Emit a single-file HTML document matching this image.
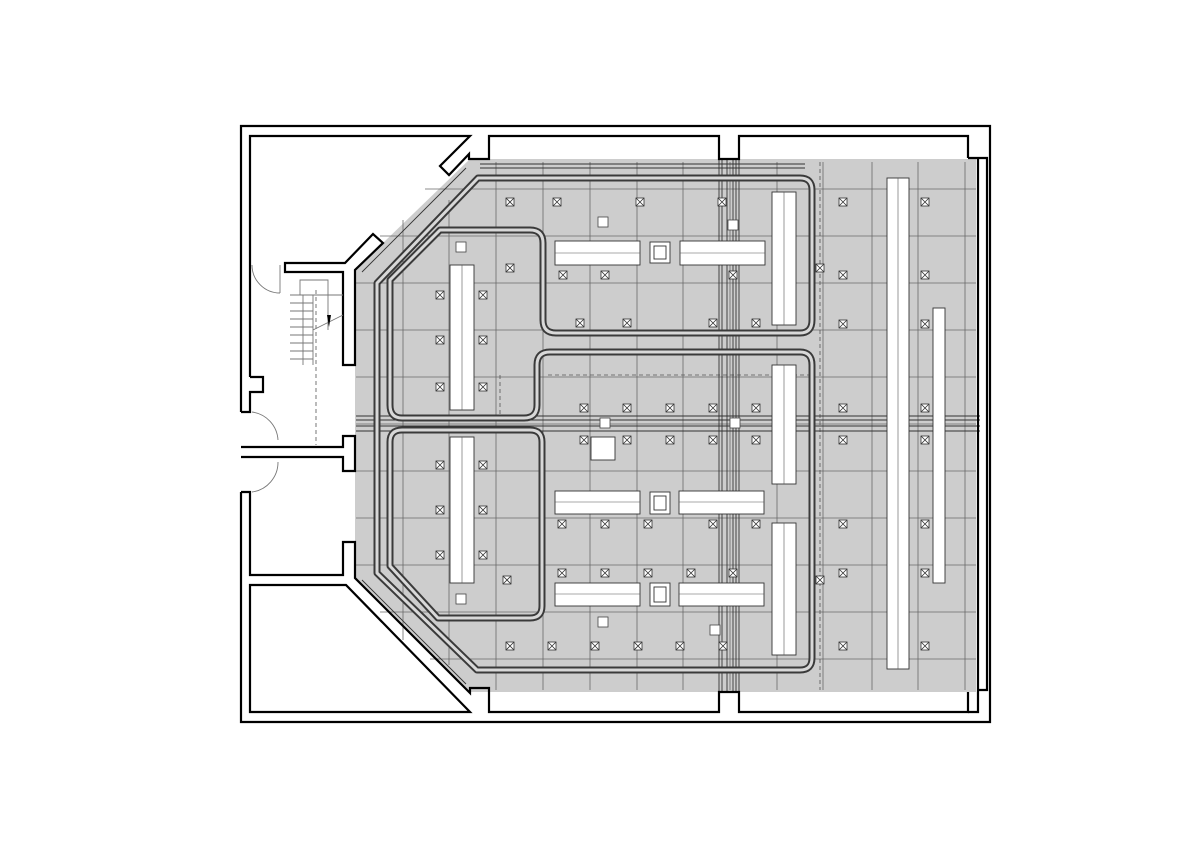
<!DOCTYPE html>
<html><head><meta charset="utf-8"><style>html,body{margin:0;padding:0;background:#fff;overflow:hidden}svg{display:block}</style></head>
<body>
<svg width="1200" height="848" viewBox="0 0 1200 848" xmlns="http://www.w3.org/2000/svg">
<defs>
<g id="x">
<rect x="-4" y="-4" width="8" height="8" fill="#fff" stroke="#333" stroke-width="0.8"/>
<path d="M-4 -4L4 4M4 -4L-4 4" stroke="#333" stroke-width="0.8"/>
</g>
<g id="s"><rect x="-5" y="-5" width="10" height="10" fill="#fff" stroke="#444" stroke-width="0.8"/></g>
</defs>
<rect width="1200" height="848" fill="#fff"/>
<polygon points="470,159 976,159 976,692 470,692 355,578 355,270" fill="#cdcdcd"/>
<g stroke="#6a6a6a" stroke-width="0.8" fill="none">
<path d="M403 220V640M449 200V665M496 162V690M543 162V690M590 162V690M637 162V690M683 162V690M730 162V690M777 162V690M823 162V690M872 162V690M918 162V690M965 162V690"/>
<path d="M425 189H976M380 236H976M356 283H976M356 330H976M356 377H976M356 424H976M356 471H976M356 518H976M356 565H976M380 612H976M430 659H976"/>
</g>
<g stroke="#555" stroke-width="0.8" fill="none" stroke-dasharray="4,3">
<path d="M820 162V690M548 375H810M500 375V420M316 290V445"/>
</g>
<g stroke="#333" stroke-width="0.9" fill="none">
<path d="M719 159V692M722 159V692M727 159V692M733 159V692M736 159V692M739 159V692"/>
<path d="M356 416H980M356 420H980M356 426H980M356 431H980"/>
<path d="M480 164H805M480 168H805M466 168L362 272M466 684L362 580"/>
</g>
<g fill="none" stroke-linejoin="round">
<g stroke="#3a3a3a" stroke-width="7">
<path d="M800 333Q812 333 812 320V190Q812 178 800 178H478L377 283V573L477 670H800Q812 670 812 658V365Q812 352 800 352H550Q537 352 537 365V405Q537 418 524 418H402Q390 418 390 405V280L440 230H530Q543 230 543 243V320Q543 333 556 333Z"/>
<path d="M402 430H530Q542 430 542 442V606Q542 618 530 618H438L390 566V442Q390 430 402 430Z"/>
</g>
<g stroke="#d8d8d8" stroke-width="3">
<path d="M800 333Q812 333 812 320V190Q812 178 800 178H478L377 283V573L477 670H800Q812 670 812 658V365Q812 352 800 352H550Q537 352 537 365V405Q537 418 524 418H402Q390 418 390 405V280L440 230H530Q543 230 543 243V320Q543 333 556 333Z"/>
<path d="M402 430H530Q542 430 542 442V606Q542 618 530 618H438L390 566V442Q390 430 402 430Z"/>
</g>
</g>
<g fill="#fff" stroke="#333" stroke-width="0.9">
<rect x="555" y="241" width="85" height="24"/><rect x="680" y="241" width="85" height="24"/>
<rect x="650" y="242" width="20" height="21"/><rect x="654" y="246" width="12" height="13"/>
<rect x="555" y="491" width="85" height="23"/><rect x="679" y="491" width="85" height="23"/>
<rect x="650" y="492" width="20" height="22"/><rect x="654" y="496" width="12" height="14"/>
<rect x="555" y="583" width="85" height="23"/><rect x="679" y="583" width="85" height="23"/>
<rect x="650" y="583" width="20" height="23"/><rect x="654" y="587" width="12" height="15"/>
<rect x="450" y="265" width="24" height="145"/><rect x="450" y="437" width="24" height="146"/>
<rect x="772" y="192" width="24" height="133"/><rect x="772" y="365" width="24" height="119"/><rect x="772" y="523" width="24" height="132"/>
<rect x="887" y="178" width="22" height="491"/><rect x="933" y="308" width="12" height="275"/>
<rect x="591" y="437" width="24" height="23"/>
</g>
<g stroke="#555" stroke-width="0.6">
<path d="M555 253H640M680 253H765M555 502H640M679 502H764M555 594H640M679 594H764M462 265V410M462 437V583M784 192V325M784 365V484M784 523V655M898 178V669"/>
</g>
<use href="#s" x="603" y="222"/><use href="#s" x="461" y="247"/><use href="#s" x="603" y="622"/><use href="#s" x="461" y="599"/><use href="#s" x="733" y="225"/><use href="#s" x="715" y="630"/><use href="#s" x="605" y="423"/><use href="#s" x="735" y="423"/>
<g>
<use href="#x" x="510" y="202"/><use href="#x" x="557" y="202"/><use href="#x" x="640" y="202"/><use href="#x" x="722" y="202"/><use href="#x" x="843" y="202"/><use href="#x" x="925" y="202"/>
<use href="#x" x="510" y="268"/><use href="#x" x="563" y="275"/><use href="#x" x="605" y="275"/><use href="#x" x="733" y="275"/><use href="#x" x="820" y="268"/><use href="#x" x="843" y="275"/><use href="#x" x="925" y="275"/>
<use href="#x" x="440" y="295"/><use href="#x" x="483" y="295"/><use href="#x" x="440" y="340"/><use href="#x" x="483" y="340"/><use href="#x" x="440" y="387"/><use href="#x" x="483" y="387"/>
<use href="#x" x="580" y="323"/><use href="#x" x="627" y="323"/><use href="#x" x="713" y="323"/><use href="#x" x="756" y="323"/><use href="#x" x="843" y="324"/><use href="#x" x="925" y="324"/>
<use href="#x" x="584" y="408"/><use href="#x" x="627" y="408"/><use href="#x" x="670" y="408"/><use href="#x" x="713" y="408"/><use href="#x" x="756" y="408"/><use href="#x" x="843" y="408"/><use href="#x" x="925" y="408"/>
<use href="#x" x="584" y="440"/><use href="#x" x="627" y="440"/><use href="#x" x="670" y="440"/><use href="#x" x="713" y="440"/><use href="#x" x="756" y="440"/><use href="#x" x="843" y="440"/><use href="#x" x="925" y="440"/>
<use href="#x" x="440" y="465"/><use href="#x" x="483" y="465"/><use href="#x" x="440" y="510"/><use href="#x" x="483" y="510"/><use href="#x" x="440" y="555"/><use href="#x" x="483" y="555"/>
<use href="#x" x="562" y="524"/><use href="#x" x="605" y="524"/><use href="#x" x="648" y="524"/><use href="#x" x="713" y="524"/><use href="#x" x="756" y="524"/><use href="#x" x="843" y="524"/><use href="#x" x="925" y="524"/>
<use href="#x" x="562" y="573"/><use href="#x" x="605" y="573"/><use href="#x" x="648" y="573"/><use href="#x" x="691" y="573"/><use href="#x" x="733" y="573"/><use href="#x" x="843" y="573"/><use href="#x" x="925" y="573"/><use href="#x" x="820" y="580"/><use href="#x" x="507" y="580"/>
<use href="#x" x="510" y="646"/><use href="#x" x="552" y="646"/><use href="#x" x="595" y="646"/><use href="#x" x="638" y="646"/><use href="#x" x="680" y="646"/><use href="#x" x="723" y="646"/><use href="#x" x="843" y="646"/><use href="#x" x="925" y="646"/>
</g>
<g fill="none" stroke="#000" stroke-width="2.2" stroke-linejoin="miter">
<path d="M241 412V126H990V722H241V492"/>
<path d="M250 377V136H470L440 166L449 175L469 154V159H489V136H719V159H739V136H968V158"/>
<path d="M373 234L345 263H285V272H343V365H355V270L383 243Z"/>
<path d="M250 377H263V392H250V412H241"/>
<path d="M241 447H343V436H355V471H343V457H241"/>
<path d="M241 492H250V575H343V542H355V578L470 693V688H489V712H719V692H739V712H968V692"/>
<path d="M250 585H346L470 712H250Z"/>
<path d="M968 158H987V690H978V712H968M978 159V690"/>
</g>
<g fill="none" stroke="#777" stroke-width="0.9">
<path d="M252 265A28 28 0 0 0 280 293"/><path d="M280 265V293"/>
<path d="M252 412A30 30 0 0 1 278 440"/><path d="M252 492A30 30 0 0 0 278 462"/>
<path d="M290 295H343M290 303H313M290 311H313M290 319H313M290 327H313M290 335H313M290 343H313M290 351H313M290 359H313M303 295V365M313 295V365M300 295V280H328V330M313 330L343 315"/>
</g>
<path d="M327 315L329 327L331 315Z" fill="#000"/>
</svg>
</body></html>
